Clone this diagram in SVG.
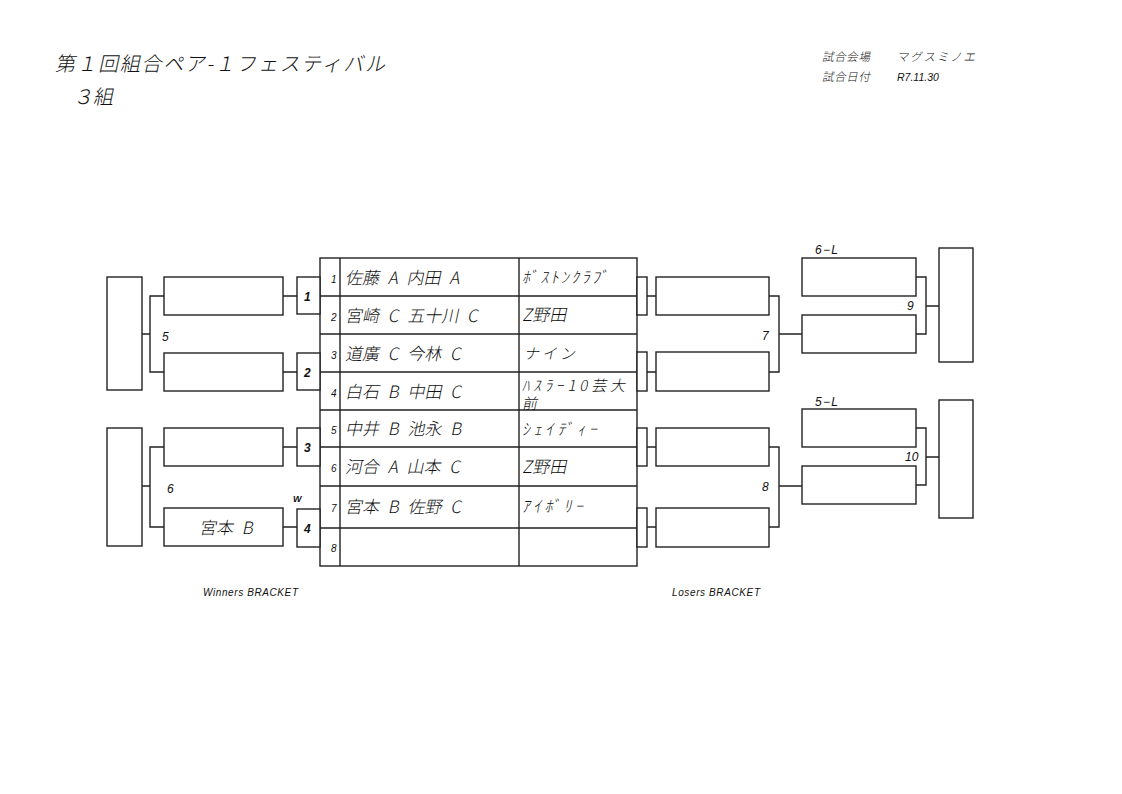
<svg xmlns="http://www.w3.org/2000/svg" width="1122" height="794" viewBox="0 0 1122 794">
<style>
.b{fill:#fff;stroke:#222;stroke-width:1.4}
.l{fill:none;stroke:#222;stroke-width:1.4}
.t{font-family:"Noto Sans CJK JP","Liberation Sans",sans-serif;font-style:normal;font-weight:300;fill:#111}
.n{font-family:"Liberation Sans","Noto Sans CJK JP",sans-serif;font-style:italic;fill:#111}
.nb{font-family:"Liberation Sans",sans-serif;font-style:italic;font-weight:bold;fill:#111}
</style>
<rect width="1122" height="794" fill="#fff"/>
<g id="header">
<text class="t" transform="translate(55,71) skewX(-12)" font-size="20" textLength="330" lengthAdjust="spacing">第１回組合ペア-１フェスティバル</text>
<text class="t" transform="translate(73,104) skewX(-12)" font-size="20" font-weight="500">３組</text>
<text class="t" transform="translate(822,61) skewX(-12)" font-size="11.5" textLength="48" lengthAdjust="spacing">試合会場</text>
<text class="t" transform="translate(897,61) skewX(-12)" font-size="11.5" textLength="78" lengthAdjust="spacing">マグスミノエ</text>
<text class="t" transform="translate(822,81) skewX(-12)" font-size="11.5" textLength="48" lengthAdjust="spacing">試合日付</text>
<text class="n" x="897" y="81" font-size="10.5">R7.11.30</text>
<text class="n" x="203" y="596" font-size="10" textLength="95" lengthAdjust="spacing">Winners BRACKET</text>
<text class="n" x="672" y="596" font-size="10" textLength="88" lengthAdjust="spacing">Losers BRACKET</text>
</g>
<g id="table">
<rect class="b" x="320" y="258" width="317" height="308"/>
<path class="l" d="M340 258V566M519 258V566M320 296H637M320 334H637M320 372H637M320 410H637M320 447H637M320 486H637M320 528H637"/>
<g class="n" font-size="10">
<text x="331" y="283">1</text><text x="331" y="321">2</text><text x="331" y="359">3</text><text x="331" y="397">4</text>
<text x="331" y="434">5</text><text x="331" y="472">6</text><text x="331" y="512">7</text><text x="331" y="552">8</text>
</g>
<g class="t" font-size="17" word-spacing="5">
<text transform="translate(345,284) skewX(-12)">佐藤 A 内田 A</text>
<text transform="translate(345,322) skewX(-12)">宮崎 C 五十川 C</text>
<text transform="translate(345,360) skewX(-12)">道廣 C 今林 C</text>
<text transform="translate(345,398) skewX(-12)">白石 B 中田 C</text>
<text transform="translate(345,435) skewX(-12)">中井 B 池永 B</text>
<text transform="translate(345,473) skewX(-12)">河合 A 山本 C</text>
<text transform="translate(345,513) skewX(-12)">宮本 B 佐野 C</text>
</g>
<g class="t">
<text transform="translate(522,283) skewX(-12)" font-size="16" textLength="86" lengthAdjust="spacing">ﾎﾞｽﾄﾝｸﾗﾌﾞ</text>
<text transform="translate(522,321) skewX(-12)" font-size="17">Z野田</text>
<text transform="translate(524,359) skewX(-12)" font-size="15" textLength="51" lengthAdjust="spacing">ナイン</text>
<text transform="translate(522,391) skewX(-12)" font-size="15" textLength="103" lengthAdjust="spacing">ﾊｽﾗｰ10芸大</text>
<text transform="translate(522,408.5) skewX(-12)" font-size="15">前</text>
<text transform="translate(522,435) skewX(-12)" font-size="16" textLength="75" lengthAdjust="spacing">ｼｪｲﾃﾞｨｰ</text>
<text transform="translate(522,473) skewX(-12)" font-size="17">Z野田</text>
<text transform="translate(522,512) skewX(-12)" font-size="16" textLength="61" lengthAdjust="spacing">ｱｲﾎﾞﾘｰ</text>
</g>
</g>
<g id="wb">
<g id="w-m1"><rect class="b" x="297" y="277" width="23" height="37"/><text class="nb" x="304" y="301" font-size="12">1</text></g>
<g id="w-m2"><rect class="b" x="297" y="353" width="23" height="37"/><text class="nb" x="304" y="377" font-size="12">2</text></g>
<g id="w-m3"><rect class="b" x="297" y="428" width="23" height="38"/><text class="nb" x="304" y="452" font-size="12">3</text></g>
<g id="w-m4"><rect class="b" x="297" y="509" width="23" height="38"/><text class="nb" x="304" y="533" font-size="12">4</text></g>
<text class="nb" x="293" y="502" font-size="9">W</text>
<g id="w-a"><rect class="b" x="164" y="277" width="119" height="38"/></g>
<g id="w-b"><rect class="b" x="164" y="353" width="119" height="38"/></g>
<g id="w-c"><rect class="b" x="164" y="428" width="119" height="38"/></g>
<g id="w-d"><rect class="b" x="164" y="508" width="119" height="38"/><text class="t" transform="translate(199,534) skewX(-12)" font-size="17" word-spacing="5">宮本 B</text></g>
<g id="w-f1"><rect class="b" x="107" y="277" width="35" height="113"/></g>
<g id="w-f2"><rect class="b" x="107" y="428" width="35" height="118"/></g>
<text class="n" x="162" y="341" font-size="12">5</text>
<text class="n" x="167" y="493" font-size="12">6</text>
</g>
<g id="lb">
<g id="l-m1"><rect class="b" x="637" y="277" width="10" height="38"/></g>
<g id="l-m2"><rect class="b" x="637" y="352" width="10" height="39"/></g>
<g id="l-m3"><rect class="b" x="637" y="428" width="10" height="38"/></g>
<g id="l-m4"><rect class="b" x="637" y="508" width="10" height="39"/></g>
<g id="l-a"><rect class="b" x="656" y="277" width="113" height="38"/></g>
<g id="l-b"><rect class="b" x="656" y="352" width="113" height="39"/></g>
<g id="l-c"><rect class="b" x="656" y="428" width="113" height="38"/></g>
<g id="l-d"><rect class="b" x="656" y="508" width="113" height="39"/></g>
<g id="l-e"><rect class="b" x="802" y="258" width="114" height="38"/><text class="n" x="815" y="254" font-size="12" textLength="23" lengthAdjust="spacing">6−L</text></g>
<g id="l-f"><rect class="b" x="802" y="315" width="114" height="38"/></g>
<g id="l-g"><rect class="b" x="802" y="409" width="114" height="38"/><text class="n" x="815" y="406" font-size="12" textLength="23" lengthAdjust="spacing">5−L</text></g>
<g id="l-h"><rect class="b" x="802" y="466" width="114" height="38"/></g>
<g id="l-f1"><rect class="b" x="939" y="248" width="34" height="114"/></g>
<g id="l-f2"><rect class="b" x="939" y="400" width="34" height="118"/></g>
<text class="n" x="762" y="340" font-size="12">7</text>
<text class="n" x="762" y="491" font-size="12">8</text>
<text class="n" x="907" y="310" font-size="12">9</text>
<text class="n" x="905" y="461" font-size="12">10</text>
</g>
<g id="connectors">
<path class="l" d="M283 296H297M283 372H297M283 447H297M283 527H297"/>
<path class="l" d="M164 296H150V372H164M142 334H150"/>
<path class="l" d="M164 447H150V527H164M142 486H150"/>
<path class="l" d="M647 296H656M647 372H656M647 447H656M647 527H656"/>
<path class="l" d="M769 296H779V372H769M779 334H802"/>
<path class="l" d="M769 447H779V527H769M779 486H802"/>
<path class="l" d="M916 277H926V334H916M926 306H939"/>
<path class="l" d="M916 428H926V485H916M926 457H939"/>
</g>
</svg>
